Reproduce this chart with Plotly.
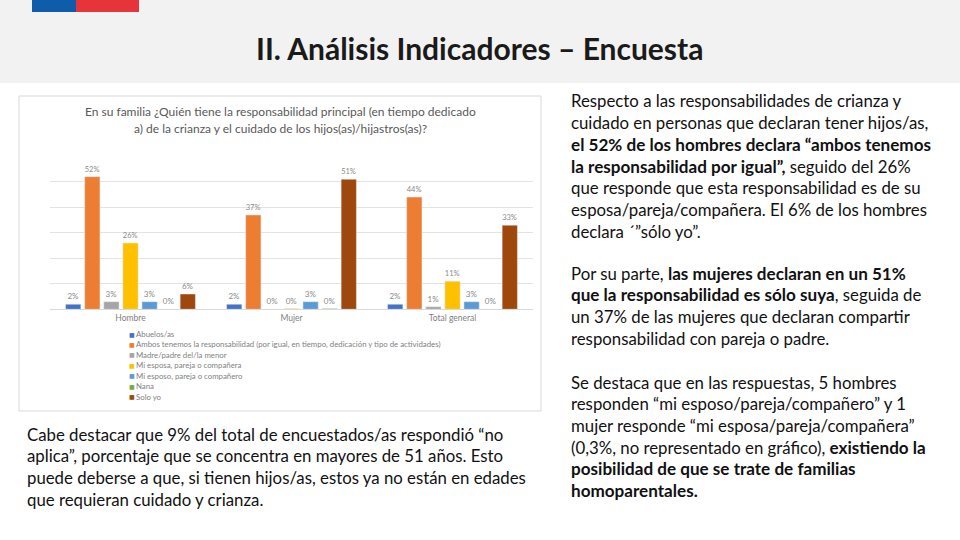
import plotly.graph_objects as go

# ---------------- data ----------------
categories = ["Hombre", "Mujer", "Total general"]
series_names = [
    "Abuelos/as",
    "Ambos tenemos la responsabilidad (por igual, en tiempo, dedicación y tipo de actividades)",
    "Madre/padre del/la menor",
    "Mi esposa, pareja o compañera",
    "Mi esposo, pareja o compañero",
    "Nana",
    "Solo yo",
]
abuelos = [2, 2, 2]
ambos = [52, 37, 44]
madre_padre = [3, 0, 1]
mi_esposa = [26, 0.3, 11]
mi_esposo = [3, 3, 3]
nana = [0, 0.3, 0]
solo_yo = [6, 51, 33]
series_values = [abuelos, ambos, madre_padre, mi_esposa, mi_esposo, nana, solo_yo]
series_colors = ["#4472C4", "#ED7D31", "#A5A5A5", "#FFC000", "#5B9BD5", "#70AD47", "#9E480E"]

chart_title = ["En su familia ¿Quién tiene la responsabilidad principal (en tiempo dedicado",
               "a) de la crianza y el cuidado de los hijos(as)/hijastros(as)?"]
slide_title = "II. Análisis Indicadores – Encuesta"

B0 = "<b><span style='font-size:17.1px'>"
B1 = "</span></b>"
para1 = [
    "Respecto a las responsabilidades de crianza y",
    "cuidado en personas que declaran tener hijos/as,",
    B0 + "el 52% de los hombres declara “ambos tenemos" + B1,
    B0 + "la responsabilidad por igual”," + B1 + " seguido del 26%",
    "que responde que esta responsabilidad es de su",
    "esposa/pareja/compañera. El 6% de los hombres",
    "declara ´”sólo yo”.",
]
para2 = [
    "Por su parte, " + B0 + "las mujeres declaran en un 51%" + B1,
    B0 + "que la responsabilidad es sólo suya" + B1 + ", seguida de",
    "un 37% de las mujeres que declaran compartir",
    "responsabilidad con pareja o padre.",
]
para3 = [
    "Se destaca que en las respuestas, 5 hombres",
    "responden “mi esposo/pareja/compañero” y 1",
    "mujer responde “mi esposa/pareja/compañera”",
    "(0,3%, no representado en gráfico), " + B0 + "existiendo la" + B1,
    B0 + "posibilidad de que se trate de familias" + B1,
    B0 + "homoparentales." + B1,
]
para4 = [
    "Cabe destacar que 9% del total de encuestados/as respondió “no",
    "aplica”, porcentaje que se concentra en mayores de 51 años. Esto",
    "puede deberse a que, si tienen hijos/as, estos ya no están en edades",
    "que requieran cuidado y crianza.",
]

W, H = 960, 540
def px(x):
    return x / W
def py(y):
    return 1 - y / H

fig = go.Figure()
for name, vals, col in zip(series_names, series_values, series_colors):
    fig.add_trace(go.Bar(
        x=categories, y=vals, name=name, marker_color=col,
        texttemplate="%{y:.0f}%", textposition="outside",
        textfont=dict(size=8, color="#8a8a8a", family="Lato"),
        cliponaxis=False, showlegend=False,
    ))

shapes = [
    dict(type="rect", xref="paper", yref="paper", x0=0, x1=1, y0=py(83), y1=1,
         fillcolor="#f2f2f2", line=dict(width=0), layer="below"),
    dict(type="rect", xref="paper", yref="paper", x0=px(32), x1=px(76), y0=py(12), y1=1,
         fillcolor="#0F5DAA", line=dict(width=0)),
    dict(type="rect", xref="paper", yref="paper", x0=px(76), x1=px(139), y0=py(12), y1=1,
         fillcolor="#E5353A", line=dict(width=0)),
    dict(type="rect", xref="paper", yref="paper", x0=px(19), x1=px(541), y0=py(411), y1=py(96),
         fillcolor="rgba(0,0,0,0)", line=dict(width=1, color="#d9d9d9"), layer="below"),
]

annotations = []
annotations.append(dict(text="<b>" + slide_title + "</b>", x=px(479), y=py(48), xref="paper", yref="paper",
                        showarrow=False, xanchor="center", yanchor="middle",
                        font=dict(family="Lato", size=30, color="#1a1a1a")))
for i, line in enumerate(chart_title):
    annotations.append(dict(text=line, x=px(280), y=py(112 + 16 * i), xref="paper", yref="paper",
                            showarrow=False, xanchor="center", yanchor="middle",
                            font=dict(family="Lato", size=12, color="#595959")))
# legend (manual, compact like the original)
for i, (name, col) in enumerate(zip(series_names, series_colors)):
    yy = 334 + 10.45 * i
    annotations.append(dict(text="■", x=px(127), y=py(yy), xref="paper", yref="paper",
                            showarrow=False, xanchor="left", yanchor="middle",
                            font=dict(family="DejaVu Sans", size=6, color=col)))
    annotations.append(dict(text=name, x=px(134), y=py(yy), xref="paper", yref="paper",
                            showarrow=False, xanchor="left", yanchor="middle",
                            font=dict(family="Lato", size=7.8, color="#7f7f7f")))

def add_par(lines, x, y0, step=21.7, size=16.8):
    for i, line in enumerate(lines):
        annotations.append(dict(text=line, x=px(x), y=py(y0 + step * i), xref="paper", yref="paper",
                                showarrow=False, xanchor="left", yanchor="middle",
                                font=dict(family="Lato", size=size, color="#111111")))

add_par(para1, 569, 101)
add_par(para2, 569, 273)
add_par(para3, 569, 382)
add_par(para4, 25, 434)

fig.update_layout(
    width=W, height=H, margin=dict(l=0, r=0, t=0, b=0),
    paper_bgcolor="white", plot_bgcolor="white",
    barmode="group", bargap=0.17, bargroupgap=0.2,
    xaxis=dict(domain=[px(50), px(533)], showgrid=False, showline=True, linecolor="#d9d9d9",
               ticks="", tickfont=dict(family="Lato", size=8.5, color="#7f7f7f")),
    yaxis=dict(domain=[py(309.3), py(156.3)], range=[0, 60], dtick=10, showgrid=True,
               gridcolor="#e3e3e3", showticklabels=False, zeroline=False),
    shapes=shapes, annotations=annotations, showlegend=False,
)

fig.write_html("out.html", config={"displayModeBar": False},
               post_script="document.body.style.margin='0px';document.body.style.overflow='hidden';")
